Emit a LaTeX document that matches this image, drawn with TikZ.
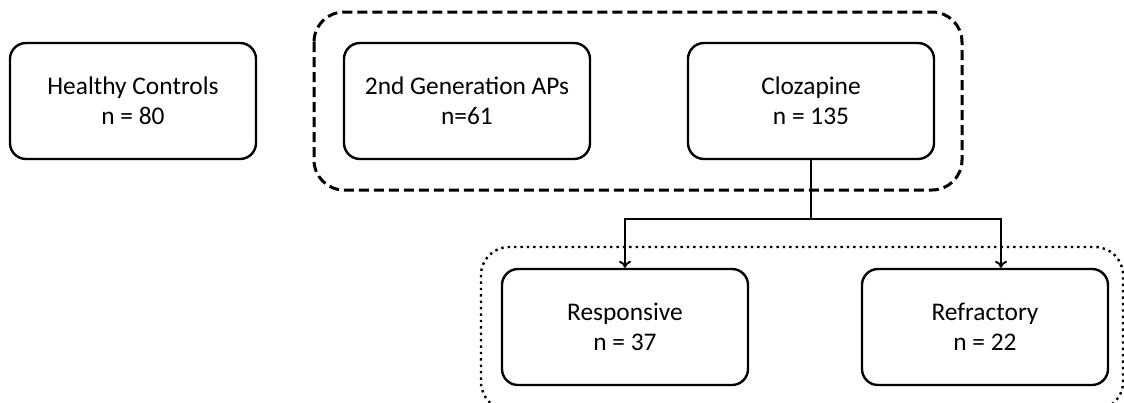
\documentclass[tikz,border=0pt]{standalone}
\usepackage{fontspec}
\setmainfont{Carlito}
\usetikzlibrary{arrows.meta}
\tikzset{
  group/.style={draw=black, line width=1.2pt, rounded corners=8pt, align=center,
    minimum width=123pt, minimum height=58pt, font=\fontsize{12.7}{15}\selectfont},
  arm/.style={line width=1pt, -{To[length=3.5pt,width=6pt]}}
}
\begin{document}
\begin{tikzpicture}[x=0.5pt,y=-0.5pt]
\useasboundingbox (0,0) rectangle (1124,402);
\draw[line width=1.5pt, dash pattern=on 5pt off 2.5pt, rounded corners=15pt] (314,12) rectangle (962,190);
\draw[line width=1.2pt, dotted, rounded corners=14pt] (481,247) rectangle (1123,410);
\node[group] (hc) at (133,101) {Healthy Controls\\n = 80};
\node[group] (gen) at (467,101) {2nd Generation APs\\n=61};
\node[group] (clz) at (811,101) {Clozapine\\n = 135};
\node[group] (resp) at (625,327) {Responsive\\n = 37};
\node[group] (refr) at (985,327) {Refractory\\n = 22};
\coordinate (split) at (811,219);
\draw[line width=1pt] (clz.south) -- (split);
\draw[arm] (split) -| (resp.north);
\draw[arm] (split) -| ([xshift=8pt]refr.north);
\end{tikzpicture}
\end{document}
